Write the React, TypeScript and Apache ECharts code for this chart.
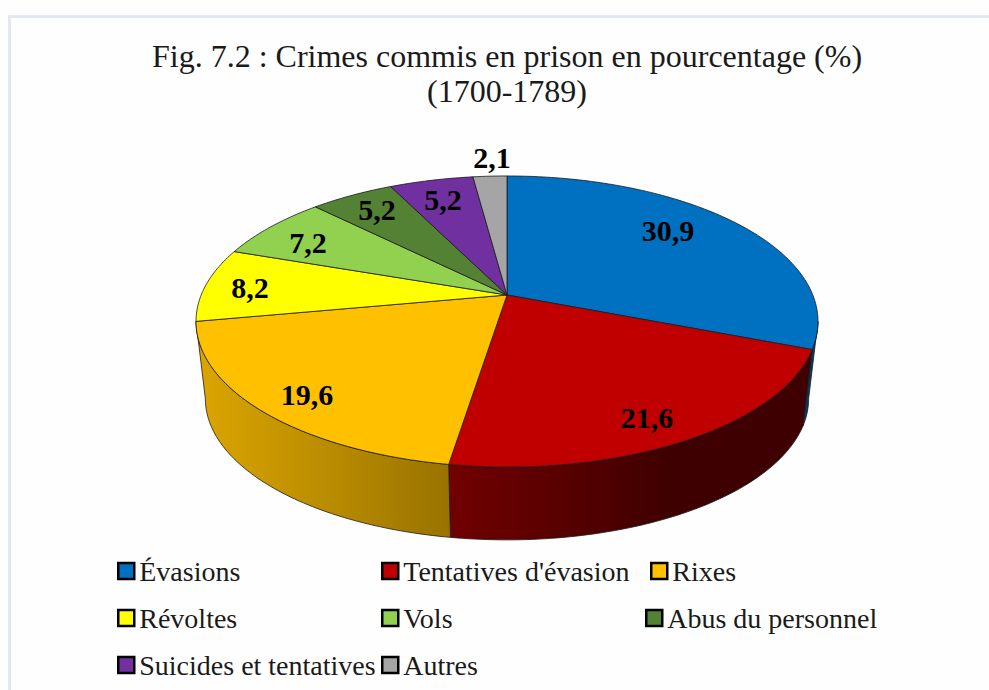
import React, { useEffect, useRef } from "react";
import * as echarts from "echarts";

const categories = ["Évasions", "Tentatives d'évasion", "Rixes", "Révoltes", "Vols", "Abus du personnel", "Suicides et tentatives", "Autres"];
const values = [30.9, 21.6, 19.6, 8.2, 7.2, 5.2, 5.2, 2.1];
const titleLines = ["Fig. 7.2 : Crimes commis en prison en pourcentage (%)", "(1700-1789)"];

const topColors = ["#0070C0", "#C00000", "#FFC000", "#FFFF00", "#92D050", "#548235", "#7030A0", "#A5A5A5"];
const wallStops: [number, string][][] = [
  [[0, "#003A66"], [1, "#003A66"]],
  [[0, "#720000"], [0.62, "#3E0000"], [1, "#3E0000"]],
  [[0, "#DCA600"], [1, "#997300"]],
  [[0, "#999900"], [1, "#999900"]],
  [[0, "#577D30"], [1, "#577D30"]],
  [[0, "#324E20"], [1, "#324E20"]],
  [[0, "#431D60"], [1, "#431D60"]],
  [[0, "#636363"], [1, "#636363"]],
];
const labelPos: [number, number][] = [[668, 230], [647, 417], [307, 394], [250, 287], [308, 242], [377, 209], [443, 199], [492, 157]];
const legendPos: [number, number][] = [[117, 557], [381, 557], [650, 557], [117, 604], [381, 604], [645, 604], [117, 651], [381, 651]];

const CX = 507, K = 0.182;
const topFace = { y0: 295, f: 305.8, g: 140.7 };
const botFace = { y0: 373, f: 296.6, g: 136.5 };
const VIS_FROM = 100.5, VIS_TO = 259.5;

function project(deg: number, p: { y0: number; f: number; g: number }): [number, number] {
  const t = (deg * Math.PI) / 180;
  const u = Math.sin(t), v = -Math.cos(t), d = 1 - K * v;
  return [CX + (p.f * u) / d, p.y0 + (p.g * v) / d];
}
function rim(a: number, b: number, p: { y0: number; f: number; g: number }) {
  const n = Math.max(2, Math.ceil(Math.abs(b - a)));
  const pts: [number, number][] = [];
  for (let i = 0; i <= n; i++) pts.push(project(a + ((b - a) * i) / n, p));
  return pts;
}
const total = values.reduce((s, v) => s + v, 0);
const stroke = "#1a1a1a";

function makeSeries(idx: number) {
  const before = values.slice(0, idx).reduce((s, v) => s + v, 0);
  return {
    type: "custom",
    name: categories[idx],
    coordinateSystem: "none",
    silent: true,
    data: [values[idx]],
    itemStyle: { color: topColors[idx] },
    renderItem: (_: any, api: any) => {
      const val = api.value(0) as number;
      const a = (before / total) * 360, b = ((before + val) / total) * 360;
      const children: any[] = [];
      const wa = Math.max(a, VIS_FROM), wb = Math.min(b, VIS_TO);
      if (wb > wa) {
        children.push({
          type: "polygon",
          shape: { points: [...rim(wa, wb, topFace), ...rim(wb, wa, botFace)] },
          style: {
            fill: {
              type: "linear", x: 0, y: 0, x2: 1, y2: 0,
              colorStops: wallStops[idx].map(([offset, color]) => ({ offset, color })),
            },
            stroke, lineWidth: 0.8,
          },
        });
      }
      children.push({
        type: "polygon",
        shape: { points: [[CX, topFace.y0], ...rim(a, b, topFace)] },
        style: { fill: topColors[idx], stroke, lineWidth: 0.8, lineJoin: "round" },
      });
      children.push({
        type: "text",
        z2: 10,
        style: {
          x: labelPos[idx][0], y: labelPos[idx][1],
          text: String(val).replace(".", ","),
          fill: "#000", align: "center", verticalAlign: "middle",
          font: 'bold 30px "Liberation Serif"',
        },
      });
      return { type: "group", children };
    },
  };
}

export default function App() {
  const ref = useRef<HTMLDivElement>(null);
  useEffect(() => {
    document.body.style.margin = "0";
    const chart = echarts.init(ref.current!, undefined, { renderer: "svg" });
    chart.setOption({
      animation: false,
      backgroundColor: "#FEFEFE",
      title: titleLines.map((text, i) => ({
        text, left: 507, top: 40 + i * 35, textAlign: "center", padding: 0,
        textStyle: { fontFamily: "Liberation Serif", fontSize: 32, fontWeight: "normal", color: "#1a1a1a" },
      })),
      legend: categories.map((name, i) => ({
        data: [name], left: legendPos[i][0], top: legendPos[i][1], padding: 0,
        icon: "rect", itemWidth: 16, itemHeight: 16, itemGap: 0,
        selectedMode: false,
        itemStyle: { borderColor: "#000", borderWidth: 2.5 },
        textStyle: { fontFamily: "Liberation Serif", fontSize: 28, color: "#1a1a1a" },
      })),
      graphic: [
        { type: "polyline", silent: true, shape: { points: [[9.5, 690], [9.5, 16.5], [989, 16.5]] }, style: { stroke: "#E3E7EF", lineWidth: 3, fill: "none" } },
      ],
      series: categories.map((_, i) => makeSeries(i)),
    });
    return () => chart.dispose();
  }, []);
  return <div ref={ref} style={{ width: 989, height: 690 }} />;
}
